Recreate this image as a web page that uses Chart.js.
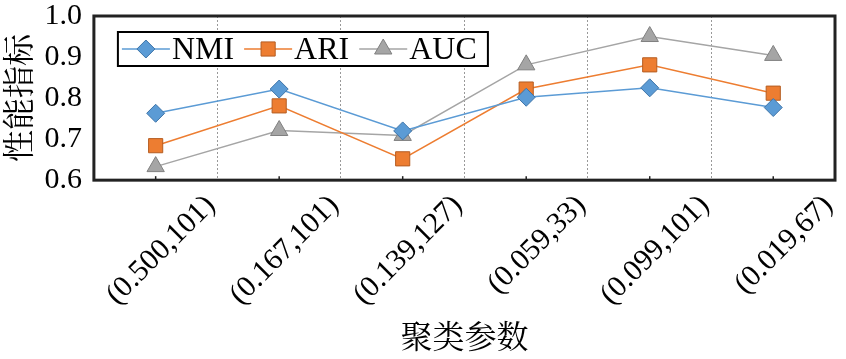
<!DOCTYPE html>
<html>
<head>
<meta charset="utf-8">
<script src="https://cdn.jsdelivr.net/npm/chart.js@4.4.0/dist/chart.umd.min.js"></script>
</head>
<body style="margin:0">
<div style="width:846px;height:359px"><canvas id="perf-chart"></canvas></div>
<script>
// cluster parameters on the x axis
const categories = ["(0.500,101)", "(0.167,101)", "(0.139,127)", "(0.059,33)", "(0.099,101)", "(0.019,67)"];

// values
const nmiValues = [0.763, 0.822, 0.72, 0.802, 0.825, 0.777];
const ariValues = [0.684, 0.781, 0.652, 0.822, 0.881, 0.812];
const aucValues = [0.633, 0.721, 0.709, 0.881, 0.950, 0.904];

const yTicks = [0.6, 0.7, 0.8, 0.9, 1.0];

const SERIF = "'Liberation Serif', 'Times New Roman', 'Noto Serif CJK SC', serif";
Chart.defaults.font.family = SERIF;

// warm up the font lookup on a scratch canvas before the chart draws
const scratch = document.createElement("canvas").getContext("2d");
scratch.font = "30px " + SERIF;
scratch.fillText("(0.500,101) NMI 聚类参数 性能指标", 0, 20);

// frame around the plot + small tick marks at each category
const framePlugin = {
  id: "frame",
  afterDraw(chart) {
    const { ctx, chartArea: a, scales } = chart;
    ctx.save();
    ctx.strokeStyle = "#222";
    ctx.lineWidth = 1.5;
    categories.forEach((c, i) => {
      const x = scales.x.getPixelForValue(i);
      ctx.beginPath();
      ctx.moveTo(x, a.bottom);
      ctx.lineTo(x, a.bottom - 4);
      ctx.stroke();
    });
    ctx.lineWidth = 3;
    ctx.strokeRect(a.left, a.top, a.right - a.left, a.bottom - a.top);
    ctx.restore();
  },
};

// legend box drawn inside the plot area, top left
const boxLegend = {
  id: "boxLegend",
  afterDraw(chart) {
    const { ctx, chartArea: a } = chart;
    const x0 = a.left + 24, y0 = a.top + 16;
    const w = 370, h = 34;
    ctx.save();
    ctx.fillStyle = "#fff";
    ctx.fillRect(x0, y0, w, h);
    ctx.strokeStyle = "#000";
    ctx.lineWidth = 2;
    ctx.strokeRect(x0, y0, w, h);
    ctx.textBaseline = "middle";
    let x = x0 + 4;
    const cy = y0 + h / 2;
    chart.data.datasets.forEach((ds) => {
      ctx.strokeStyle = ds.borderColor;
      ctx.lineWidth = 1.5;
      ctx.beginPath();
      ctx.moveTo(x, cy);
      ctx.lineTo(x + 48, cy);
      ctx.stroke();
      ctx.fillStyle = ds.pointBackgroundColor;
      ctx.strokeStyle = ds.pointBorderColor;
      ctx.lineWidth = 1;
      Chart.helpers.drawPoint(ctx, {
        pointStyle: ds.pointStyle,
        radius: ds.pointRadius,
        borderWidth: 1,
      }, x + 24, cy);
      ctx.font = "32px " + SERIF;
      ctx.fillStyle = "#000";
      ctx.fillText(ds.label, x + 50, cy + 2);
      x += 50 + ctx.measureText(ds.label).width + 10;
    });
    ctx.restore();
  },
};

const chart = new Chart("perf-chart", {
  type: "line",
  data: {
    labels: categories,
    datasets: [
      {
        label: "NMI",
        data: nmiValues,
        borderColor: "#5B9BD5",
        borderWidth: 1.5,
        pointStyle: "rectRot",
        pointRadius: 9,
        pointBackgroundColor: "#5B9BD5",
        pointBorderColor: "#3E74A8",
        pointBorderWidth: 1,
      },
      {
        label: "ARI",
        data: ariValues,
        borderColor: "#ED7D31",
        borderWidth: 1.5,
        pointStyle: "rect",
        pointRadius: 10,
        pointBackgroundColor: "#ED7D31",
        pointBorderColor: "#B55D22",
        pointBorderWidth: 1,
      },
      {
        label: "AUC",
        data: aucValues,
        borderColor: "#A5A5A5",
        borderWidth: 1.5,
        pointStyle: "triangle",
        pointRadius: 10,
        pointBackgroundColor: "#A5A5A5",
        pointBorderColor: "#808080",
        pointBorderWidth: 1,
      },
    ],
  },
  options: {
    maintainAspectRatio: false,
    animation: false,
    layout: { padding: { top: 0, right: -4, left: 2, bottom: 0 } },
    plugins: {
      legend: { display: false },
      tooltip: { enabled: false },
    },
    scales: {
      x: {
        offset: true,
        grid: {
          offset: true,
          color: "#999",
          lineWidth: 1,
          drawTicks: false,
        },
        border: { display: false, dash: [2, 2] },
        ticks: {
          autoSkip: false,
          minRotation: 45,
          maxRotation: 45,
          padding: 8,
          labelOffset: 55,
          color: "#000",
          font: { family: SERIF, size: 30 },
        },
        title: {
          display: true,
          text: "聚类参数",
          color: "#000",
          padding: { top: 0, bottom: 0 },
          font: { family: SERIF, size: 32 },
        },
      },
      y: {
        min: 0.6,
        max: 1.0,
        afterBuildTicks(axis) {
          axis.ticks = yTicks.map((v) => ({ value: v }));
        },
        grid: { display: false },
        border: { display: false },
        ticks: {
          autoSkip: false,
          padding: 4,
          color: "#000",
          font: { family: SERIF, size: 30, lineHeight: 0.8 },
          callback: (v) => v.toFixed(1),
        },
        title: {
          display: true,
          text: "性能指标",
          color: "#000",
          padding: { top: 0, bottom: 0 },
          font: { family: SERIF, size: 32 },
        },
      },
    },
  },
  plugins: [framePlugin, boxLegend],
});

// redraw once fonts have settled
document.fonts.ready.then(() => chart.update());
setTimeout(() => chart.update(), 150);
</script>
</body>
</html>
